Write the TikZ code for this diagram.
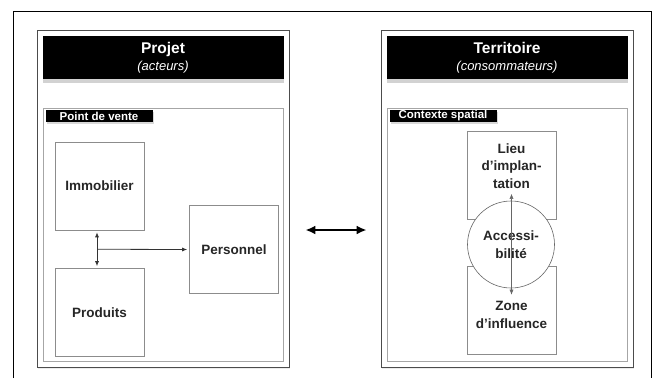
\documentclass[tikz,border=0pt]{standalone}
\usepackage{fontspec}
\setmainfont{Liberation Sans}
\usetikzlibrary{positioning,shadows,arrows.meta,calc}

\begin{document}
\begin{tikzpicture}[
    % 坐标单位:1 单位 = 1pt,y 轴向下(与参考图像素一致)
    x=1pt, y=-1pt,
    % 外层面板:深灰边框 + 淡阴影
    panel/.style={
        draw=black!70, % 边框颜色
        line width=0.8pt,
        fill=white,
        inner sep=0pt,
        minimum width=252pt, minimum height=337pt,
        drop shadow={shadow xshift=1pt, shadow yshift=-2pt, opacity=0.15}
        },
    % 面板内框:浅灰
    inframe/.style={draw=black!35, line width=0.6pt, inner sep=0pt,
        minimum width=240pt, minimum height=253pt},
    % 黑色标题栏
    header/.style={
        fill=black, text=white, inner sep=0pt, align=center,
        minimum width=241pt, minimum height=43pt,
        font=\fontsize{13}{17}\selectfont,
        drop shadow={shadow xshift=0pt, shadow yshift=-4pt, opacity=0.35}
        },
    % 小标签
    tagbar/.style={
        fill=black, text=white, inner sep=0pt,
        minimum width=107pt, minimum height=12pt,
        font=\fontsize{11.5}{12}\selectfont\bfseries,
        drop shadow={shadow xshift=1pt, shadow yshift=-2pt, opacity=0.3}
        },
    % 方框
    mybox/.style={
        draw=black!45, line width=0.6pt, fill=white, inner sep=0pt,
        minimum width=89pt, minimum height=88pt, align=center,
        font=\fontsize{13.5}{17.5}\selectfont\bfseries, text=black!85
        },
    boxtext/.style={align=center, inner sep=0pt,
        font=\fontsize{13.5}{17.5}\selectfont\bfseries, text=black!85},
    % 圆形节点
    mycircle/.style={circle, draw=black!60, line width=0.6pt, fill=white,
        inner sep=0pt, minimum size=87pt, align=center,
        font=\fontsize{13.5}{17.5}\selectfont\bfseries, text=black!85},
    % 箭头
    myline/.style={line width=0.8pt, draw=black!80, >={Latex[length=5pt,width=4pt]}},
    thinline/.style={line width=0.5pt, draw=black!60, >={Latex[length=5pt,width=4pt]}},
    bigarrow/.style={line width=2.2pt, draw=black, >={Latex[length=10pt,width=9pt]}}
    ]
    \useasboundingbox (0,0) rectangle (652,378);
    % ========== 第一步:外框 ==========
    \draw [line width=0.8pt] (13,378) -- (13,11) -- (651,11) -- (651,378);
    % ========== 第二步:两个面板(标题栏 + 内框 + 标签) ==========
    \foreach \side/\x/\title/\sub/\tag in {L/163/Projet/acteurs/Point de vente,
                                            R/507/Territoire/consommateurs/Contexte spatial} {
        \node [panel] (panel\side) at (\x, 198.5) {};
        \node [inframe] (frame\side) at (\x, 234.5) {};
        \node [header] (head\side) at (\x, 57.5)
            {{\fontsize{15.5}{17}\selectfont\bfseries \title}\\{\itshape (\sub)}};
        \node [tagbar] (tag\side) at (\x-64, 116) {\tag};
    }
    % ========== 第三步:左侧方框 ==========
    \foreach \name/\txt/\x/\y in {imm/Immobilier/99.5/186, prod/Produits/99.5/312.5,
                                  pers/Personnel/234/249.5} {
        \node [mybox] (\name) at (\x, \y) {\txt};
    }
    \coordinate (mid) at ($(imm.south)!0.5!(prod.north)+(-2.5,0)$);
    \draw [myline, <->] ([xshift=-2.5pt, yshift=-2pt]imm.south) -- ([xshift=-2.5pt, yshift=2pt]prod.north);
    \draw [myline, ->] (mid) -- ([xshift=-2pt]pers.west);
    % ========== 第四步:右侧方框 + 圆 ==========
    \node [mybox, label={[boxtext, yshift=9.5pt]center:{Lieu\\d’implan-\\tation}}] (lieu) at (511.5, 175.5) {};
    \node [mybox, label={[boxtext, yshift=-5pt]center:{Zone\\d’influence}}] (zone) at (511.5, 310) {};
    \node [mycircle] (acc) at (511, 244.5) {Accessi-\\bilité};
    \draw [thinline, <->] ([yshift=26pt]lieu.south) -- ([yshift=-29pt]zone.north);
    % ========== 第五步:中间双向箭头 ==========
    \draw [bigarrow, <->, shorten <=16pt, shorten >=14pt]
        ([yshift=-31.5pt]panelL.east) -- ([yshift=-31.5pt]panelR.west);
\end{tikzpicture}
\end{document}
